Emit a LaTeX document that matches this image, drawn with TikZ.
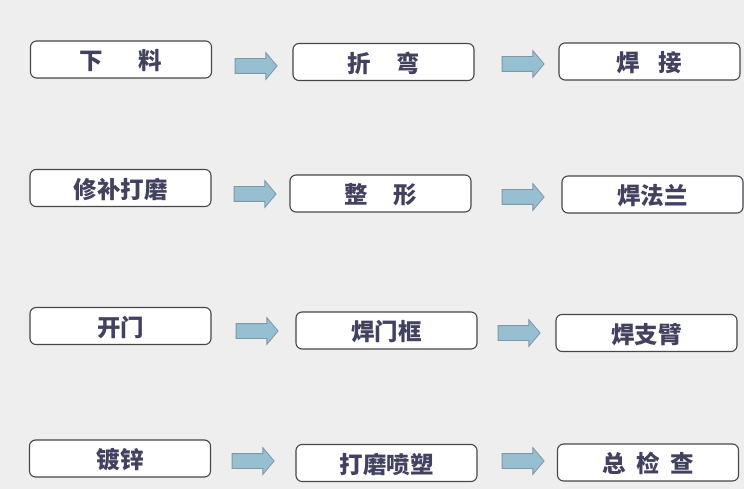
\documentclass[tikz,border=0pt]{standalone}
\usepackage{fontspec}
\newfontfamily\cjk{Noto Sans CJK SC}
\usetikzlibrary{shapes.arrows}
\definecolor{bgc}{RGB}{238,238,239}
\definecolor{txt}{RGB}{66,66,96}
\definecolor{boxline}{RGB}{70,70,75}
\definecolor{arrfill}{RGB}{150,192,210}
\definecolor{arrline}{RGB}{130,150,165}
\tikzset{
  stepbox/.style={draw=boxline, line width=1.1pt, fill=white, rounded corners=6pt,
    minimum width=181pt, minimum height=37pt, inner sep=0pt, text depth=0pt,
    font=\cjk\bfseries\fontsize{23.5}{25}\selectfont, text=txt},
  blockarrow/.style={single arrow, draw=arrline, line width=0.8pt, fill=arrfill,
    minimum height=42pt, single arrow head extend=6pt,
    single arrow tip angle=100,
    single arrow head indent=0pt, shape border rotate=0, inner sep=0pt}
}
\newcommand{\shaft}{\rule{0pt}{14pt}}
\begin{document}
\begin{tikzpicture}[x=1pt,y=-1pt]
\fill[bgc] (0,0) rectangle (744,489);
\useasboundingbox (0,0) rectangle (744,489);
% row 1
\node[stepbox] (a1) at (121,59.5) {下\hspace{1.5em}料};
\node[stepbox] (a2) at (383.5,62) {折\hspace{1.1em}弯};
\node[stepbox] (a3) at (649.5,61.5) {焊\hspace{0.8em}接};
\node[blockarrow] (p1) at (253,66) {\shaft};
\node[blockarrow] (p2) at (520,64) {\shaft};
% row 2
\node[stepbox] (b1) at (120.5,188) {修补打磨};
\node[stepbox] (b2) at (380.5,193.5) {整\hspace{1.1em}形};
\node[stepbox] (b3) at (652.5,194.5) {焊法兰};
\node[blockarrow] (q1) at (252,194) {\shaft};
\node[blockarrow] (q2) at (520,197) {\shaft};
% row 3
\node[stepbox] (c1) at (120.5,326) {开门};
\node[stepbox] (c2) at (386.5,330.5) {焊门框};
\node[stepbox] (c3) at (646.5,333) {焊支臂};
\node[blockarrow] (r1) at (254,331) {\shaft};
\node[blockarrow] (r2) at (516,333) {\shaft};
% row 4
\node[stepbox] (d1) at (120,458.5) {镀锌};
\node[stepbox] (d2) at (386.5,463) {打磨喷塑};
\node[stepbox] (d3) at (648,462.5) {总\hspace{0.45em}检\hspace{0.45em}查};
\node[blockarrow] (s1) at (250,461) {\shaft};
\node[blockarrow] (s2) at (520,461) {\shaft};
\end{tikzpicture}
\end{document}
